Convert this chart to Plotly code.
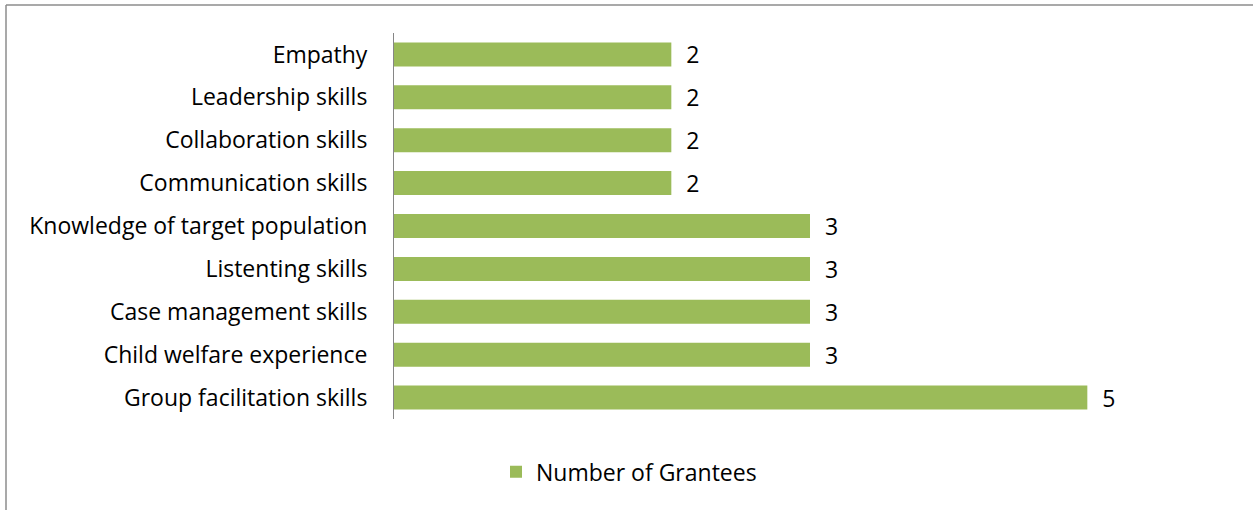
import plotly.graph_objects as go

categories = ["Group facilitation skills", "Child welfare experience", "Case management skills",
              "Listenting skills", "Knowledge of target population", "Communication skills",
              "Collaboration skills", "Leadership skills", "Empathy"]
values = [5, 3, 3, 3, 3, 2, 2, 2, 2]
series_name = "Number of Grantees"

W, H = 1253, 510
L, R, T, B = 394, 27, 33, 91
pw, ph = W - L - R, H - T - B
FS = 23

fig = go.Figure(go.Bar(
    y=categories, x=values, orientation="h", name=series_name,
    marker=dict(color="#9BBB59", line=dict(width=0)),
    text=values, texttemplate="  %{x}", textposition="outside",
    constraintext="none",
    textfont=dict(size=FS, color="#000000"), cliponaxis=False,
    showlegend=True,
))

font = "'Open Sans', sans-serif"
fig.update_layout(
    width=W, height=H,
    margin=dict(l=L, r=R, t=T, b=B, autoexpand=False),
    paper_bgcolor="white", plot_bgcolor="white",
    font=dict(family=font, size=FS, color="#000000"),
    bargap=0.44,
    xaxis=dict(range=[0, 6], visible=False, fixedrange=True),
    yaxis=dict(showline=True, linecolor="#868686", linewidth=1, ticks="",
               ticklabelstandoff=21, showgrid=False, tickfont=dict(size=FS)),
    legend=dict(orientation="h", xref="container", yref="container",
                x=0.502, y=0.075, xanchor="center", yanchor="middle",
                font=dict(size=FS)),
    shapes=[
        dict(type="line", xref="paper", yref="paper",
             x0=(6 - L) / pw, x1=(6 - L) / pw, y0=(T + ph - H - 10) / ph, y1=(T + ph - 5) / ph,
             line=dict(color="#8c8c8c", width=1.5)),
        dict(type="line", xref="paper", yref="paper",
             x0=(6 - L) / pw, x1=(W + 10 - L) / pw, y0=(T + ph - 5) / ph, y1=(T + ph - 5) / ph,
             line=dict(color="#8c8c8c", width=1.5)),
    ],
)
fig.write_html("out.html")
